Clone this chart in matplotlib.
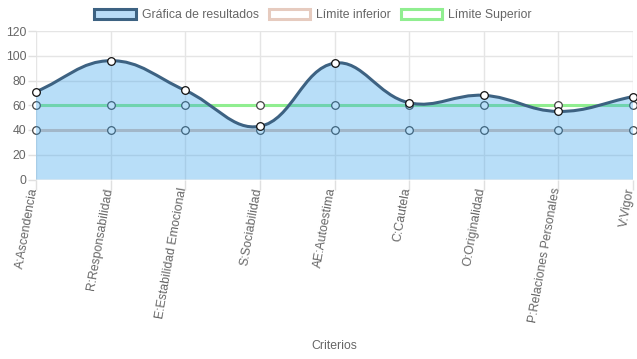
import numpy as np
import matplotlib
matplotlib.use("Agg")
import matplotlib.pyplot as plt
from matplotlib.path import Path
from matplotlib.patches import PathPatch, Patch
import matplotlib.transforms as mtransforms

plt.rcParams['font.family'] = ['Liberation Sans', 'DejaVu Sans']

categories = ["A:Ascendencia", "R:Responsabilidad", "E:Estabilidad Emocional",
              "S:Sociabilidad", "AE:Autoestima", "C:Cautela", "O:Originalidad",
              "P:Relaciones Personales", "V:Vigor"]
resultados = [71, 96, 72, 43, 94, 62, 68, 55, 67]
limite_inferior = [40, 40, 40, 40, 40, 40, 40, 40, 40]
limite_superior = [60, 60, 60, 60, 60, 60, 60, 60, 60]
y_ticks = [0, 20, 40, 60, 80, 100, 120]

W, H = 637, 359
fig = plt.figure(figsize=(W / 100, H / 100), dpi=100)
left, right, top, bottom = 36, 633, 31, 179.5
ax = fig.add_axes([left / W, 1 - bottom / H, (right - left) / W, (bottom - top) / H])

n = len(categories)
ax.set_xlim(0, n - 1)
ax.set_ylim(0, 120)
sx = (right - left) / (n - 1)
sy = (bottom - top) / 120.0


def spline_path(xs, ys, tension=0.4):
    px = np.array(xs, float) * sx
    py = np.array(ys, float) * sy
    m = len(px)
    cps = []
    for i in range(m):
        pv = i - 1 if i > 0 else i
        nx = i + 1 if i < m - 1 else i
        d01 = np.hypot(px[i] - px[pv], py[i] - py[pv])
        d12 = np.hypot(px[nx] - px[i], py[nx] - py[i])
        tot = d01 + d12
        s01 = d01 / tot if tot else 0
        s12 = d12 / tot if tot else 0
        fa, fb = tension * s01, tension * s12
        dx, dy = px[nx] - px[pv], py[nx] - py[pv]
        cps.append(((px[i] - fa * dx, py[i] - fa * dy), (px[i] + fb * dx, py[i] + fb * dy)))
    verts = [(px[0] / sx, py[0] / sy)]
    codes = [Path.MOVETO]
    for i in range(1, m):
        c1 = cps[i - 1][1]
        c2 = cps[i][0]
        verts += [(c1[0] / sx, min(max(c1[1] / sy, 0), 120)),
                  (c2[0] / sx, min(max(c2[1] / sy, 0), 120)),
                  (px[i] / sx, py[i] / sy)]
        codes += [Path.CURVE4] * 3
    return verts, codes


# grid
for yv in y_ticks:
    ax.axhline(yv, color='#e5e5e5' if yv else '#c8c8c8', lw=1, zorder=0.5)
for i in range(n):
    ax.axvline(i, color='#e5e5e5', lw=1, zorder=0.5)

x = np.arange(n)
sup_col = '#90ee90'
inf_col = '#dcc3b8'
res_line = '#3d6282'
res_fill = (54 / 255, 162 / 255, 235 / 255, 0.35)

ax.plot(x, limite_superior, color=sup_col, lw=2.2, zorder=2, solid_capstyle='butt')
ax.plot(x, limite_superior, 'o', ms=5.5, mfc='white', mec='#444444', mew=0.9, zorder=2.1, clip_on=False)
ax.plot(x, limite_inferior, color=inf_col, lw=2.2, zorder=3, solid_capstyle='butt')
ax.plot(x, limite_inferior, 'o', ms=5.5, mfc='white', mec='#444444', mew=0.9, zorder=3.1, clip_on=False)

verts, codes = spline_path(x, resultados)
fill_verts = verts + [(n - 1, 0), (0, 0), verts[0]]
fill_codes = codes + [Path.LINETO, Path.LINETO, Path.CLOSEPOLY]
ax.add_patch(PathPatch(Path(fill_verts, fill_codes), facecolor=res_fill, edgecolor='none', zorder=4))
ax.add_patch(PathPatch(Path(verts, codes), facecolor='none', edgecolor=res_line, lw=2.2, zorder=5))
ax.plot(x, resultados, 'o', ms=5.5, mfc='white', mec='#111111', mew=0.9, zorder=6, clip_on=False)

for s in ax.spines.values():
    s.set_visible(False)

ax.set_yticks(y_ticks)
ax.set_yticklabels([str(v) for v in y_ticks])
ax.set_xticks(x)
ax.set_xticklabels(categories, rotation=80, ha='right', va='center', rotation_mode='anchor')
ax.tick_params(axis='both', colors='#e0e0e0', labelcolor='#666666', labelsize=8.8, width=1)
ax.tick_params(axis='y', pad=1, length=6)
ax.tick_params(axis='x', pad=-1, length=7)

shift = mtransforms.ScaledTranslation(-2 / 100, 0, fig.dpi_scale_trans)
for lab in ax.get_xticklabels():
    lab.set_transform(lab.get_transform() + shift)

fig.text((left + right) / 2 / W, 1 - 346 / H, "Criterios", ha='center', va='center',
         color='#666666', fontsize=8.8)

handles = [Patch(facecolor='#b9dcf7', edgecolor=res_line, lw=2.2),
           Patch(facecolor='white', edgecolor='#e6cbbf', lw=2.2),
           Patch(facecolor='white', edgecolor=sup_col, lw=2.2)]
labels = ["Gráfica de resultados", "Límite inferior", "Límite Superior"]
leg = fig.legend(handles, labels, loc='center', bbox_to_anchor=(313 / W, 1 - 15 / H), ncol=3,
                 frameon=False, fontsize=8.8, handlelength=3.4, handleheight=0.95,
                 handletextpad=0.5, columnspacing=0.8, borderpad=0)
for t in leg.get_texts():
    t.set_color('#666666')

fig.savefig("out.png", dpi=100)
